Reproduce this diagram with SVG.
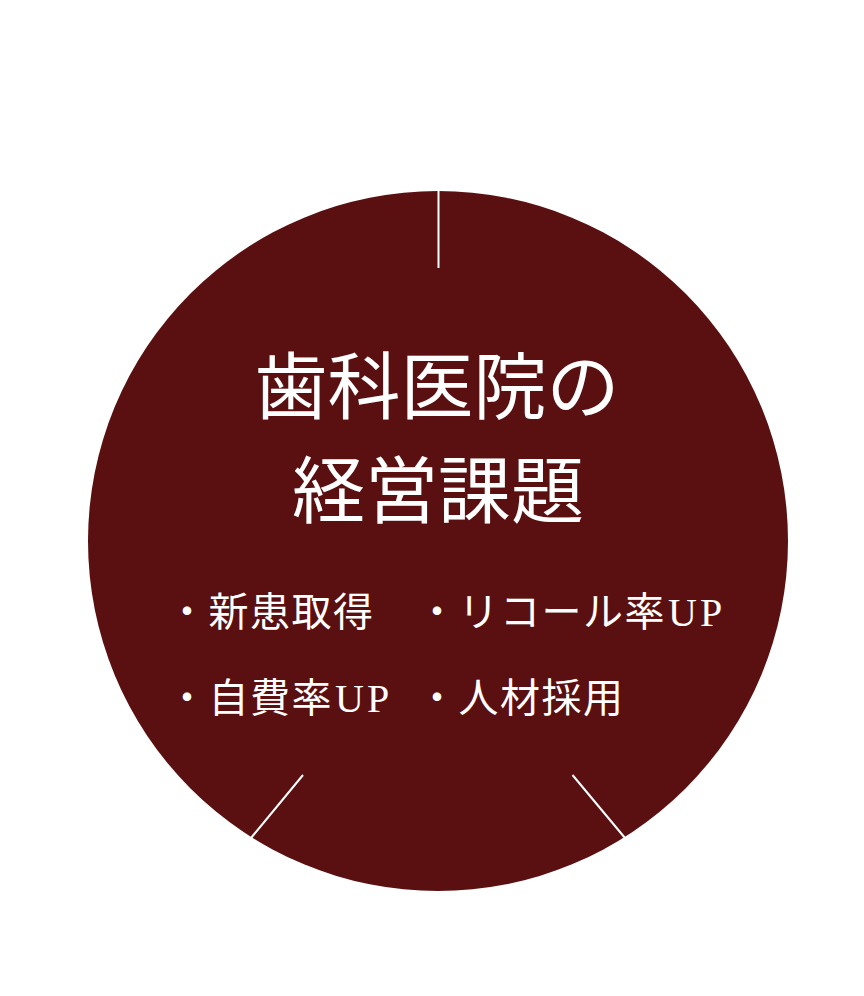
<svg xmlns="http://www.w3.org/2000/svg" width="864" height="996" viewBox="0 0 864 996">
<style>
.t{font-family:"Liberation Serif","Noto Sans CJK JP",serif;fill:#ffffff}
.title{font-size:73px;text-anchor:middle}
.item{font-size:40px;letter-spacing:1.5px}
.up{letter-spacing:3px}
.div{stroke:#ffffff;stroke-width:2;fill:none}
</style>
<rect width="864" height="996" fill="#ffffff"/>
<g id="circle">
<circle cx="438" cy="541" r="350" fill="#5A1010"/>
</g>
<g id="connectors">
<line class="div" x1="438.5" y1="191" x2="438.5" y2="268"/>
<line class="div" x1="251" y1="838" x2="303" y2="775"/>
<line class="div" x1="572.5" y1="775" x2="625" y2="838"/>
</g>
<g id="title">
<text class="t title" x="437" y="413">歯科医院の</text>
<text class="t title" x="438" y="517">経営課題</text>
</g>
<g id="items">
<text class="t item" x="167" y="626">・新患取得</text>
<text class="t item" x="417" y="626">・リコール率<tspan class="up" dx="2">UP</tspan></text>
<text class="t item" x="167" y="712">・自費率<tspan class="up" dx="2">UP</tspan></text>
<text class="t item" x="417" y="712">・人材採用</text>
</g>
</svg>
